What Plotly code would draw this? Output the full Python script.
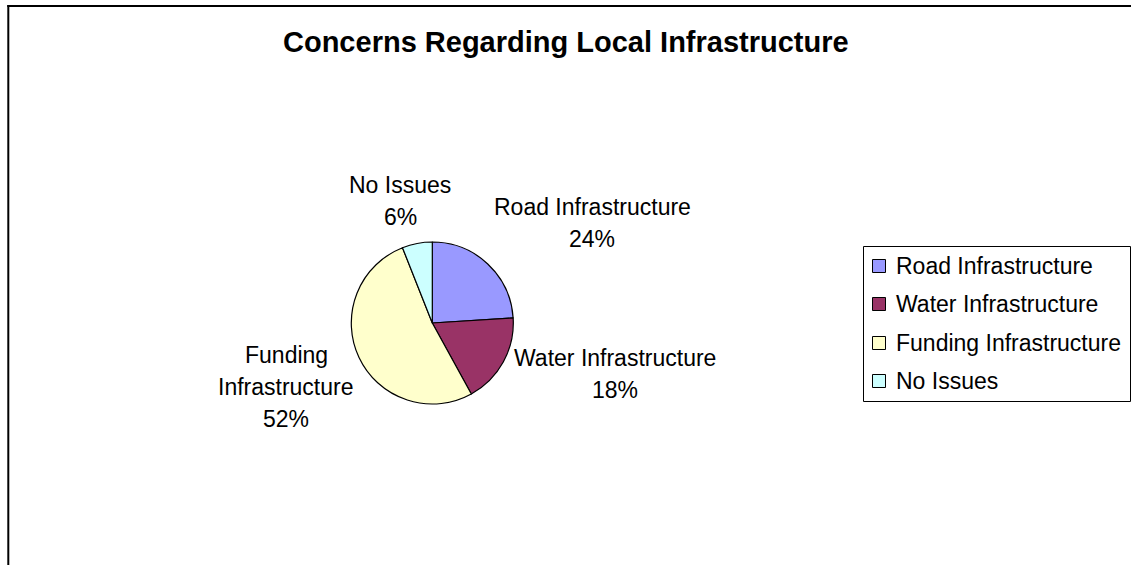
import plotly.graph_objects as go

# Survey categories and their shares (percent)
categories = ["Road Infrastructure", "Water Infrastructure", "Funding Infrastructure", "No Issues"]
shares = [24, 18, 52, 6]
slice_colors = ["#9999FF", "#993366", "#FFFFCC", "#CCFFFF"]
title_text = "Concerns Regarding Local Infrastructure"

W, H = 1131, 565
FONT = "Liberation Sans, Arial, sans-serif"


def px(x):
    return x / W


def py(y):
    return 1 - y / H


# Pie geometry in pixels
cx, cy, r = 432.3, 323.0, 81.0

# Data-label anchors (centre of first line) and their line breaks
label_layout = [
    (592, 207, ["Road Infrastructure"]),
    (615, 358, ["Water Infrastructure"]),
    (286, 355, ["Funding", "Infrastructure"]),
    (400, 185, ["No Issues"]),
]
LINE_STEP = 32.0
LABEL_SIZE = 23

fig = go.Figure()
fig.add_trace(go.Pie(
    labels=categories,
    values=shares,
    sort=False,
    direction="clockwise",
    rotation=0,
    marker=dict(colors=slice_colors, line=dict(color="black", width=1.2)),
    textinfo="none",
    hoverinfo="label+percent",
    showlegend=False,
    domain=dict(x=[px(cx - r), px(cx + r)], y=[py(cy + r), py(cy - r)]),
))

annotations = []
total = sum(shares)
for (lx, ly, lines), val in zip(label_layout, shares):
    pct = f"{round(100 * val / total)}%"
    for i, line in enumerate(lines + [pct]):
        annotations.append(dict(
            x=px(lx), y=py(ly + i * LINE_STEP), xref="paper", yref="paper",
            text=line, showarrow=False, xanchor="center", yanchor="middle",
            font=dict(family=FONT, size=LABEL_SIZE, color="black"),
        ))

# Title
annotations.append(dict(
    x=px(566), y=py(42), xref="paper", yref="paper",
    text=f"<b>{title_text}</b>", showarrow=False, xanchor="center", yanchor="middle",
    font=dict(family=FONT, size=29, color="black"),
))

shapes = [
    # chart-area frame: left and top edges
    dict(type="line", xref="paper", yref="paper",
         x0=px(8.3), y0=0, x1=px(8.3), y1=py(5),
         line=dict(color="black", width=2), layer="above"),
    dict(type="line", xref="paper", yref="paper",
         x0=px(7.3), y0=py(6), x1=1, y1=py(6),
         line=dict(color="black", width=2), layer="above"),
    # legend box
    dict(type="rect", xref="paper", yref="paper",
         x0=px(863.5), y0=py(401.5), x1=px(1130.5), y1=py(246.5),
         line=dict(color="black", width=1), fillcolor="white", layer="below"),
]

# Legend entries
row_y = [266, 304, 343, 381]
for name, col, yy in zip(categories, slice_colors, row_y):
    shapes.append(dict(
        type="rect", xref="paper", yref="paper",
        x0=px(872.5), x1=px(885.5), y0=py(yy + 6.5), y1=py(yy - 6.5),
        line=dict(color="black", width=1), fillcolor=col, layer="above",
    ))
    annotations.append(dict(
        x=px(894), y=py(yy), xref="paper", yref="paper",
        text=name, showarrow=False, xanchor="left", yanchor="middle",
        font=dict(family=FONT, size=LABEL_SIZE, color="black"),
    ))

fig.update_layout(
    width=W, height=H,
    margin=dict(l=0, r=0, t=0, b=0),
    paper_bgcolor="white",
    plot_bgcolor="white",
    annotations=annotations,
    shapes=shapes,
    showlegend=False,
)

fig.write_html("out.html")
